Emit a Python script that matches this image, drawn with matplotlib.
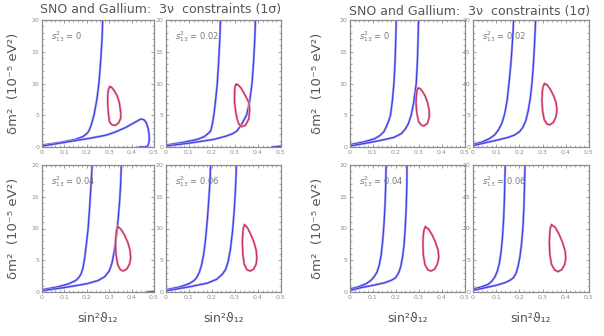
import matplotlib
matplotlib.use("Agg")
import matplotlib.pyplot as plt
from matplotlib.ticker import MultipleLocator

# s^2_13 value shown in each panel
s13_labels = ["0", "0.02", "0.04", "0.06"]

# ---- left group: blue band edges and red 1 sigma contour, per panel ----
L_steep_x = [
    [0, 0.08, 0.15, 0.183, 0.2, 0.209, 0.22, 0.232, 0.245, 0.254, 0.262, 0.268, 0.271],
    [0, 0.07, 0.136, 0.165, 0.179, 0.188, 0.194, 0.201, 0.208, 0.216, 0.223, 0.229, 0.234, 0.237],
    [0, 0.07, 0.12, 0.15, 0.165, 0.175, 0.183, 0.19, 0.198, 0.206, 0.213, 0.219, 0.224],
    [0, 0.06, 0.1, 0.122, 0.134, 0.145, 0.155, 0.164, 0.172, 0.18, 0.186, 0.191, 0.194],
]
L_steep_y = [
    [0.3, 0.7, 1.2, 1.65, 2.1, 2.5, 3.5, 5, 7.5, 10, 13.5, 17, 20],
    [0.3, 0.7, 1.2, 1.6, 2.0, 2.3, 2.5, 3.5, 5, 7.5, 10, 13.5, 17, 20],
    [0.35, 0.8, 1.3, 1.8, 2.3, 2.9, 3.8, 5.2, 7.5, 10, 13.5, 17, 20],
    [0.35, 0.8, 1.3, 1.8, 2.3, 3.1, 4.3, 6, 8.3, 11.5, 14.5, 17.3, 20],
]
L_flat_x = [
    [0, 0.07, 0.139, 0.21, 0.286, 0.33, 0.375, 0.41, 0.441, 0.455, 0.466, 0.474,
     0.478, 0.479, 0.476, 0.47, 0.455, 0.434],
    [0, 0.1, 0.208, 0.26, 0.29, 0.309, 0.322, 0.335, 0.35, 0.363, 0.374, 0.381, 0.386, 0.389],
    [0, 0.1, 0.2, 0.25, 0.28, 0.3, 0.312, 0.322, 0.332, 0.34, 0.347, 0.351, 0.354],
    [0, 0.1, 0.18, 0.22, 0.245, 0.26, 0.27, 0.28, 0.289, 0.296, 0.301, 0.304, 0.306],
]
L_flat_y = [
    [0.16, 0.55, 0.95, 1.35, 1.86, 2.4, 3.1, 3.8, 4.4, 4.3, 3.8, 2.9,
     2.0, 1.2, 0.5, 0.05, 0, 0],
    [0.16, 0.6, 1.2, 1.7, 2.1, 2.55, 3.2, 4.0, 5, 7, 10, 13.5, 17, 20],
    [0.2, 0.7, 1.3, 1.8, 2.4, 3.3, 4.5, 6.3, 8.7, 11.5, 14.5, 17, 20],
    [0.2, 0.8, 1.4, 2.0, 2.8, 3.6, 4.8, 6.7, 9.5, 12.5, 15.5, 17.8, 20],
]
# small blue pieces near the lower right corner
L_tail_x = [None, [0.461, 0.48, 0.5], [0.47, 0.49, 0.5], None]
L_tail_y = [None, [0, 0.05, 0.16], [0, 0.05, 0.1], None]

L_red_x = [
    [0.303, 0.297, 0.294, 0.293, 0.296, 0.301, 0.312, 0.327, 0.342, 0.351, 0.352, 0.345, 0.335, 0.322, 0.311, 0.303],
    [0.305, 0.300, 0.298, 0.298, 0.303, 0.309, 0.317, 0.327, 0.345, 0.360, 0.364, 0.360, 0.345, 0.326, 0.313, 0.305],
    [0.339, 0.333, 0.330, 0.328, 0.331, 0.338, 0.350, 0.362, 0.378, 0.391, 0.396, 0.393, 0.383, 0.368, 0.352, 0.339],
    [0.342, 0.336, 0.334, 0.332, 0.334, 0.340, 0.352, 0.366, 0.381, 0.392, 0.395, 0.392, 0.382, 0.367, 0.353, 0.342],
]
L_red_y = [
    [9.45, 9.1, 8.4, 7.05, 5.5, 4.0, 3.5, 3.4, 3.8, 4.5, 5.3, 7.05, 8.1, 8.9, 9.4, 9.45],
    [9.85, 9.5, 8.6, 7.05, 5.6, 4.4, 3.6, 3.2, 3.4, 4.4, 6.0, 7.0, 8.1, 9.3, 9.8, 9.85],
    [10.25, 9.8, 9.0, 7.5, 5.8, 4.3, 3.5, 3.3, 3.6, 4.4, 5.4, 6.6, 7.8, 9.0, 9.9, 10.25],
    [10.55, 10.1, 9.3, 7.8, 6.0, 4.4, 3.5, 3.3, 3.6, 4.4, 5.4, 6.6, 7.9, 9.2, 10.2, 10.55],
]

# ---- right group ----
R_steep_x = [
    [0, 0.06, 0.107, 0.13, 0.147, 0.158, 0.167, 0.176, 0.184, 0.191, 0.196, 0.199, 0.201],
    [0, 0.04, 0.07, 0.093, 0.11, 0.125, 0.137, 0.147, 0.155, 0.163, 0.168, 0.172, 0.175],
    [0, 0.04, 0.07, 0.09, 0.105, 0.117, 0.127, 0.135, 0.142, 0.148, 0.152, 0.155, 0.157],
    [0, 0.04, 0.065, 0.081, 0.095, 0.105, 0.114, 0.121, 0.127, 0.132, 0.135, 0.137, 0.139],
]
R_steep_y = [
    [0.37, 0.8, 1.3, 1.8, 2.4, 3.2, 4.0, 5, 7.2, 10, 13.5, 17, 20],
    [0.4, 0.8, 1.3, 1.9, 2.7, 3.8, 5.3, 7.3, 10, 13, 15.5, 17.8, 20],
    [0.45, 0.85, 1.3, 1.8, 2.4, 3.1, 4.2, 5.7, 8, 10.8, 13.5, 16.5, 20],
    [0.45, 0.85, 1.2, 1.7, 2.4, 3.3, 4.6, 6.3, 8.6, 11.5, 14.3, 17, 20],
]
R_flat_x = [
    [0, 0.07, 0.136, 0.19, 0.223, 0.24, 0.254, 0.266, 0.277, 0.288, 0.293, 0.296, 0.298],
    [0, 0.05, 0.1, 0.15, 0.18, 0.2, 0.215, 0.228, 0.238, 0.247, 0.254, 0.26, 0.265, 0.27],
    [0, 0.05, 0.1, 0.15, 0.18, 0.197, 0.21, 0.22, 0.228, 0.235, 0.24, 0.244, 0.247, 0.248],
    [0, 0.05, 0.1, 0.14, 0.162, 0.174, 0.185, 0.194, 0.202, 0.209, 0.215, 0.219, 0.222, 0.224],
]
R_flat_y = [
    [0.16, 0.6, 1.06, 1.5, 2.1, 2.8, 3.7, 5, 7, 10, 13.5, 17, 20],
    [0.2, 0.65, 1.05, 1.5, 1.9, 2.4, 3.1, 4.2, 5.7, 7.7, 10, 12.8, 16, 20],
    [0.25, 0.7, 1.05, 1.45, 1.85, 2.2, 2.9, 3.9, 5.4, 7.4, 10, 13, 16.5, 20],
    [0.25, 0.65, 1.05, 1.5, 1.9, 2.25, 2.9, 4.0, 5.5, 7.5, 10.1, 13, 16.5, 20],
]
R_red_x = [
    [0.297, 0.291, 0.289, 0.287, 0.290, 0.298, 0.309, 0.321, 0.336, 0.345, 0.344, 0.338, 0.327, 0.316, 0.305, 0.297],
    [0.308, 0.302, 0.299, 0.297, 0.300, 0.307, 0.319, 0.332, 0.347, 0.358, 0.362, 0.358, 0.347, 0.333, 0.319, 0.308],
    [0.328, 0.322, 0.319, 0.317, 0.319, 0.326, 0.338, 0.352, 0.368, 0.380, 0.386, 0.383, 0.372, 0.357, 0.342, 0.328],
    [0.339, 0.333, 0.331, 0.329, 0.331, 0.338, 0.351, 0.366, 0.382, 0.395, 0.400, 0.397, 0.386, 0.371, 0.354, 0.339],
]
R_red_y = [
    [9.25, 8.9, 8.2, 7.1, 5.5, 4.0, 3.5, 3.3, 3.7, 4.75, 5.8, 6.9, 8.0, 8.7, 9.2, 9.25],
    [9.95, 9.5, 8.8, 7.3, 5.7, 4.3, 3.6, 3.5, 3.9, 4.8, 5.9, 7.0, 8.1, 9.1, 9.8, 9.95],
    [10.25, 9.8, 9.0, 7.5, 5.8, 4.3, 3.5, 3.3, 3.6, 4.4, 5.4, 6.6, 7.8, 9.0, 9.9, 10.25],
    [10.55, 10.1, 9.3, 7.8, 6.0, 4.4, 3.5, 3.2, 3.5, 4.3, 5.3, 6.5, 7.8, 9.1, 10.2, 10.55],
]

x_ticks = [0, 0.1, 0.2, 0.3, 0.4, 0.5]
x_ticklabels = ["0", "0.1", "0.2", "0.3", "0.4", "0.5"]
y_ticks = [0, 5, 10, 15, 20]

BLUE = "#3c3ce4"
BLUE_HALO = "#a4a4f4"
RED = "#cc3060"
RED_HALO = "#eca6ba"
TXT = "#555555"

W, H = 604, 336
fig = plt.figure(figsize=(6.04, 3.36), dpi=100)

def px_axes(x0, y0, x1, y1):
    return fig.add_axes([x0 / W, 1 - y1 / H, (x1 - x0) / W, (y1 - y0) / H])

# pixel boxes of the panels
left_cols = [(42, 154), (166, 281)]
left_rows = [(20, 147), (165, 292)]
right_cols = [(350, 465), (473, 589)]
right_rows = [(20, 147), (165, 292)]

def style(ax):
    ax.set_xlim(0, 0.5)
    ax.set_ylim(0, 20)
    ax.set_xticks(x_ticks)
    ax.set_xticklabels(x_ticklabels)
    ax.set_yticks(y_ticks)
    ax.xaxis.set_minor_locator(MultipleLocator(0.02))
    ax.yaxis.set_minor_locator(MultipleLocator(1))
    ax.tick_params(which="both", direction="in", top=True, right=True,
                   colors="#8c8c8c", labelsize=4.5, labelcolor="#8c8c8c", pad=2)
    ax.tick_params(which="major", length=2.5, width=0.6)
    ax.tick_params(which="minor", length=1.2, width=0.5)
    for s in ax.spines.values():
        s.set_color("#8a8a8a")
        s.set_linewidth(0.9)

def blue(ax, x, y):
    ax.plot(x, y, color=BLUE_HALO, lw=1.7, solid_capstyle="round", solid_joinstyle="round")
    ax.plot(x, y, color=BLUE, lw=0.8, solid_joinstyle="round")

def draw_group(cols, rows, sx, sy, fx, fy, rx, ry, tx=None, ty=None):
    k = 0
    for r in rows:
        for c in cols:
            ax = px_axes(c[0], r[0], c[1], r[1])
            style(ax)
            blue(ax, sx[k], sy[k])
            blue(ax, fx[k], fy[k])
            if tx is not None and tx[k] is not None:
                blue(ax, tx[k], ty[k])
            ax.plot(rx[k], ry[k], color=RED_HALO, lw=1.7, solid_joinstyle="round")
            ax.plot(rx[k], ry[k], color=RED, lw=0.9, solid_joinstyle="round")
            ax.text(0.08, 0.87, r"$s^2_{13}$ = " + s13_labels[k], transform=ax.transAxes,
                    fontsize=6, color="#777777", va="center")
            k += 1

draw_group(left_cols, left_rows, L_steep_x, L_steep_y, L_flat_x, L_flat_y,
           L_red_x, L_red_y, L_tail_x, L_tail_y)
draw_group(right_cols, right_rows, R_steep_x, R_steep_y, R_flat_x, R_flat_y,
           R_red_x, R_red_y)

title = "SNO and Gallium:  3ν  constraints (1σ)"
fig.text(161 / W, 1 - 10 / H, title, ha="center", va="center", fontsize=9, color=TXT)
fig.text(470 / W, 1 - 12 / H, title, ha="center", va="center", fontsize=9, color=TXT)

ylab = "δm²  (10⁻⁵ eV²)"
for xp, rows in [(14, left_rows), (318, right_rows)]:
    for r in rows:
        fig.text(xp / W, 1 - (r[0] + r[1]) / 2 / H, ylab, rotation=90,
                 ha="center", va="center", fontsize=9.5, color=TXT)

xlab = "sin²ϑ₁₂"
for cols in [left_cols, right_cols]:
    for c in cols:
        fig.text((c[0] + c[1]) / 2 / W, 1 - 318 / H, xlab, ha="center", va="center",
                 fontsize=9, color=TXT)

fig.savefig("out.png", dpi=100)
